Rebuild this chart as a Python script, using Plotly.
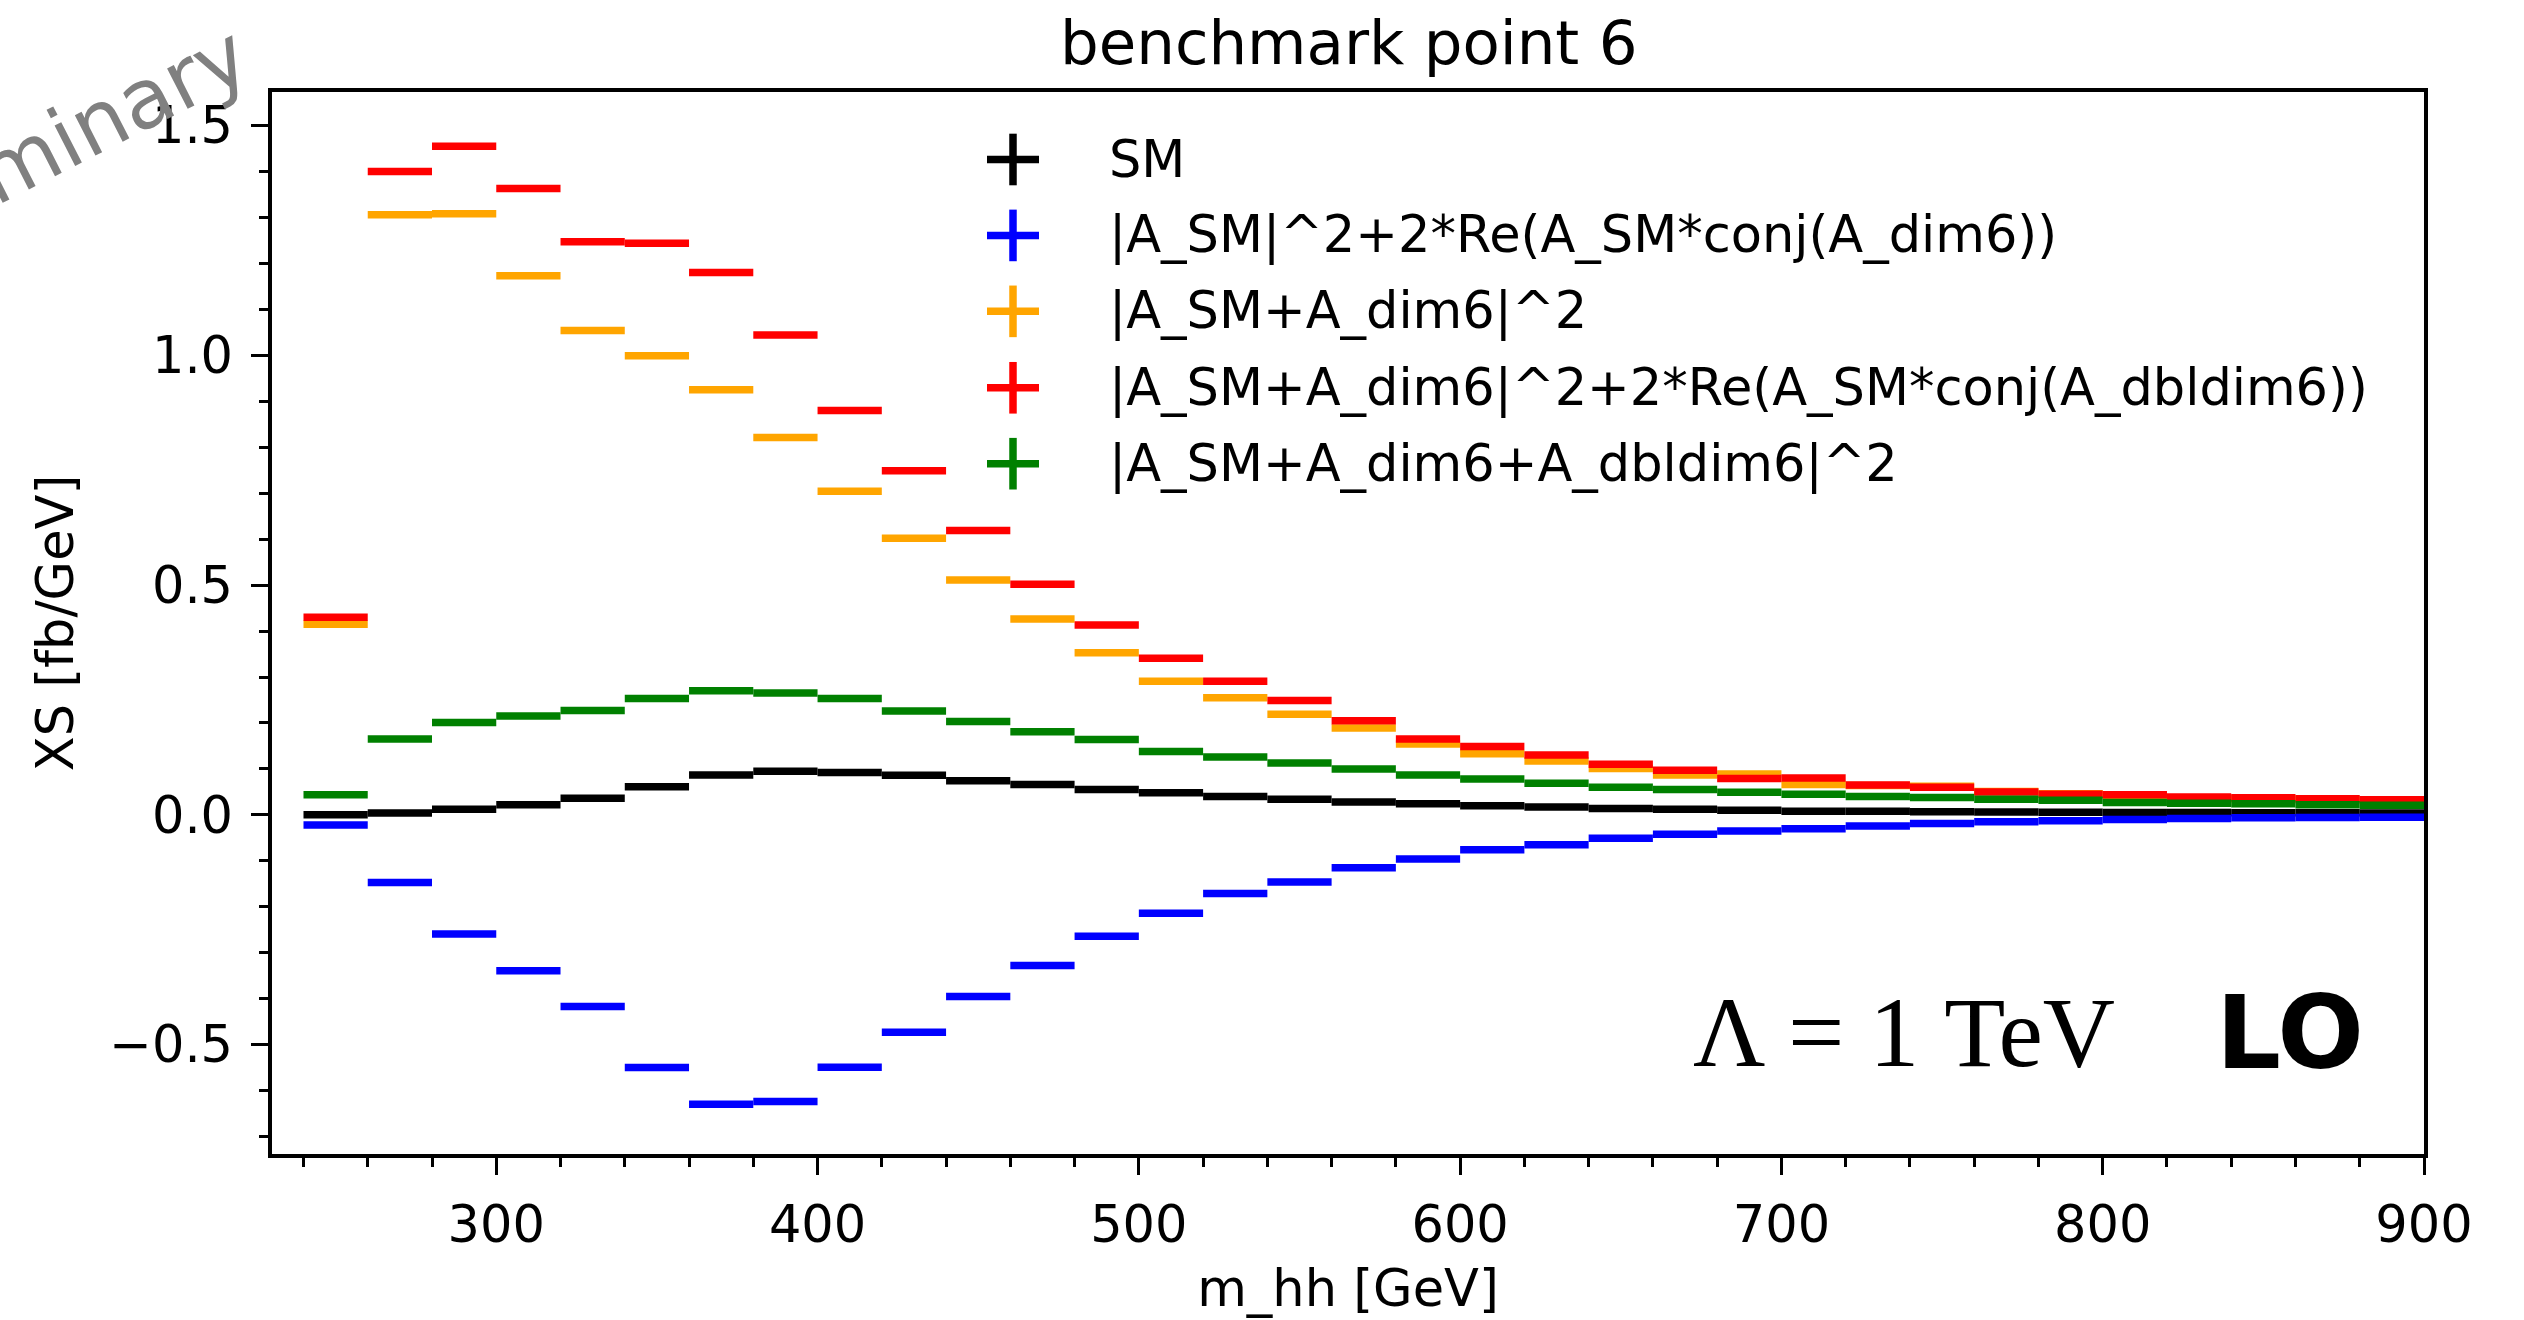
import plotly.graph_objects as go

# ---------------- data ----------------
bin_edges = list(range(240, 901, 20))  # 33 bins of 20 GeV

sm = [0.000, 0.004, 0.012, 0.022, 0.036, 0.061, 0.087, 0.095, 0.092, 0.086,
      0.074, 0.066, 0.055, 0.048, 0.040, 0.034, 0.028, 0.024, 0.020, 0.017,
      0.014, 0.012, 0.010, 0.008, 0.008, 0.0065, 0.006, 0.0055, 0.005, 0.005,
      0.0045, 0.0045, 0.004]

interf_dim6 = [-0.022, -0.147, -0.259, -0.339, -0.417, -0.550, -0.630, -0.624, -0.549, -0.473,
               -0.395, -0.328, -0.264, -0.214, -0.171, -0.146, -0.115, -0.096, -0.076, -0.065,
               -0.051, -0.042, -0.035, -0.030, -0.024, -0.019, -0.015, -0.013, -0.010, -0.008,
               -0.0065, -0.006, -0.005]

sq_dim6 = [0.415, 1.306, 1.308, 1.173, 1.054, 0.999, 0.925, 0.821, 0.704, 0.602,
           0.511, 0.426, 0.353, 0.291, 0.255, 0.219, 0.189, 0.154, 0.133, 0.117,
           0.101, 0.087, 0.089, 0.066, 0.064, 0.062, 0.051, 0.046, 0.042, 0.037,
           0.035, 0.033, 0.031]

sq_dim6_interf_dbl = [0.430, 1.400, 1.455, 1.363, 1.247, 1.244, 1.180, 1.044, 0.880, 0.749,
                      0.619, 0.502, 0.413, 0.341, 0.291, 0.249, 0.205, 0.165, 0.149, 0.130,
                      0.110, 0.097, 0.079, 0.080, 0.065, 0.060, 0.050, 0.045, 0.044, 0.039,
                      0.037, 0.035, 0.033]

sq_full = [0.044, 0.165, 0.201, 0.215, 0.227, 0.253, 0.270, 0.265, 0.253, 0.226,
           0.203, 0.181, 0.164, 0.138, 0.126, 0.113, 0.100, 0.087, 0.078, 0.069,
           0.060, 0.055, 0.049, 0.045, 0.040, 0.038, 0.034, 0.032, 0.027, 0.025,
           0.024, 0.022, 0.021]

series_names = ["SM",
                "|A_SM|^2+2*Re(A_SM*conj(A_dim6))",
                "|A_SM+A_dim6|^2",
                "|A_SM+A_dim6|^2+2*Re(A_SM*conj(A_dbldim6))",
                "|A_SM+A_dim6+A_dbldim6|^2"]
series_values = [sm, interf_dim6, sq_dim6, sq_dim6_interf_dbl, sq_full]
series_colors = ["#000000", "#0000ff", "#ffa500", "#ff0000", "#008000"]

x_ticks = [300, 400, 500, 600, 700, 800, 900]
y_ticks = [-0.5, 0.0, 0.5, 1.0, 1.5]

# ---------------- layout geometry ----------------
W, H = 2524, 1320
ML, MR, MT, MB = 272, 100, 92, 158
PW, PH = W - ML - MR, H - MT - MB
FONT = "DejaVu Sans"
FS = 51


def paper_x(px):
    return (px - ML) / PW


def paper_y(py):
    return (H - MB - py) / PH


fig = go.Figure()

for name, vals, col in zip(series_names, series_values, series_colors):
    xs, ys = [], []
    for i, v in enumerate(vals):
        xs += [bin_edges[i], bin_edges[i + 1], None]
        ys += [v, v, None]
    fig.add_trace(go.Scatter(x=xs, y=ys, mode="lines", name=name,
                             line=dict(color=col, width=7.5),
                             showlegend=False, hoverinfo="skip"))

axis_common = dict(
    showline=True, linecolor="black", linewidth=3.5, mirror=True,
    showgrid=False, zeroline=False,
    ticks="outside", ticklen=17, tickwidth=3, tickcolor="black",
    tickfont=dict(family=FONT, size=FS, color="black"),
)

fig.update_xaxes(
    range=[230.2, 900], tickvals=x_ticks, ticktext=[str(t) for t in x_ticks],
    minor=dict(ticks="outside", dtick=20, tick0=240, ticklen=9, tickwidth=3, tickcolor="black"),
    title=dict(text="m_hh [GeV]", font=dict(family=FONT, size=FS, color="black"), standoff=18),
    ticklabelstandoff=6,
    **axis_common,
)
fig.update_yaxes(
    range=[-0.738, 1.573], tickvals=y_ticks, ticktext=[f"{t:.1f}".replace("-", "\u2212") for t in y_ticks],
    minor=dict(ticks="outside", dtick=0.1, tick0=0, ticklen=9, tickwidth=3, tickcolor="black"),
    title=dict(text="XS [fb/GeV]", font=dict(family=FONT, size=FS, color="black"), standoff=20),
    ticklabelstandoff=8,
    **axis_common,
)

shapes = []
annotations = []

# manual legend: "+" markers and labels
leg_x = 1013
leg_text_x = 1107
leg_y = [160, 236.5, 313, 390, 466.5]
half = 26
for name, col, cy in zip(series_names, series_colors, leg_y):
    shapes.append(dict(type="line", xref="paper", yref="paper",
                       x0=paper_x(leg_x - half), x1=paper_x(leg_x + half),
                       y0=paper_y(cy), y1=paper_y(cy),
                       line=dict(color=col, width=7.5)))
    shapes.append(dict(type="line", xref="paper", yref="paper",
                       x0=paper_x(leg_x), x1=paper_x(leg_x),
                       y0=paper_y(cy - half), y1=paper_y(cy + half),
                       line=dict(color=col, width=7.5)))
    annotations.append(dict(text=name, xref="paper", yref="paper",
                            x=paper_x(leg_text_x), y=paper_y(cy),
                            xanchor="left", yanchor="middle", showarrow=False,
                            font=dict(family=FONT, size=FS, color="black")))

# title
annotations.append(dict(text="benchmark point 6", xref="paper", yref="paper",
                        x=0.5, y=1, yshift=12, xanchor="center", yanchor="bottom",
                        showarrow=False, font=dict(family=FONT, size=61, color="black")))

# Lambda label and LO
annotations.append(dict(text="\u039b = 1 TeV", xref="paper", yref="paper",
                        x=paper_x(1904), y=paper_y(1040), xanchor="center", yanchor="middle",
                        showarrow=False, font=dict(family="Liberation Serif", size=100, color="black")))
annotations.append(dict(text="<b>LO</b>", xref="paper", yref="paper",
                        x=paper_x(2290), y=paper_y(1040), xanchor="center", yanchor="middle",
                        showarrow=False, font=dict(family=FONT, size=102, color="black")))

# Preliminary watermark (partly off canvas, as in the reference)
annotations.append(dict(text="Preliminary", xref="paper", yref="paper",
                        x=paper_x(33), y=paper_y(156), xanchor="center", yanchor="middle",
                        textangle=-27, showarrow=False,
                        font=dict(family=FONT, size=83, color="#808080")))

fig.update_layout(
    width=W, height=H, autosize=False,
    margin=dict(l=ML, r=MR, t=MT, b=MB, pad=0),
    paper_bgcolor="white", plot_bgcolor="white",
    shapes=shapes, annotations=annotations,
    showlegend=False,
)

fig.write_html("out.html")
